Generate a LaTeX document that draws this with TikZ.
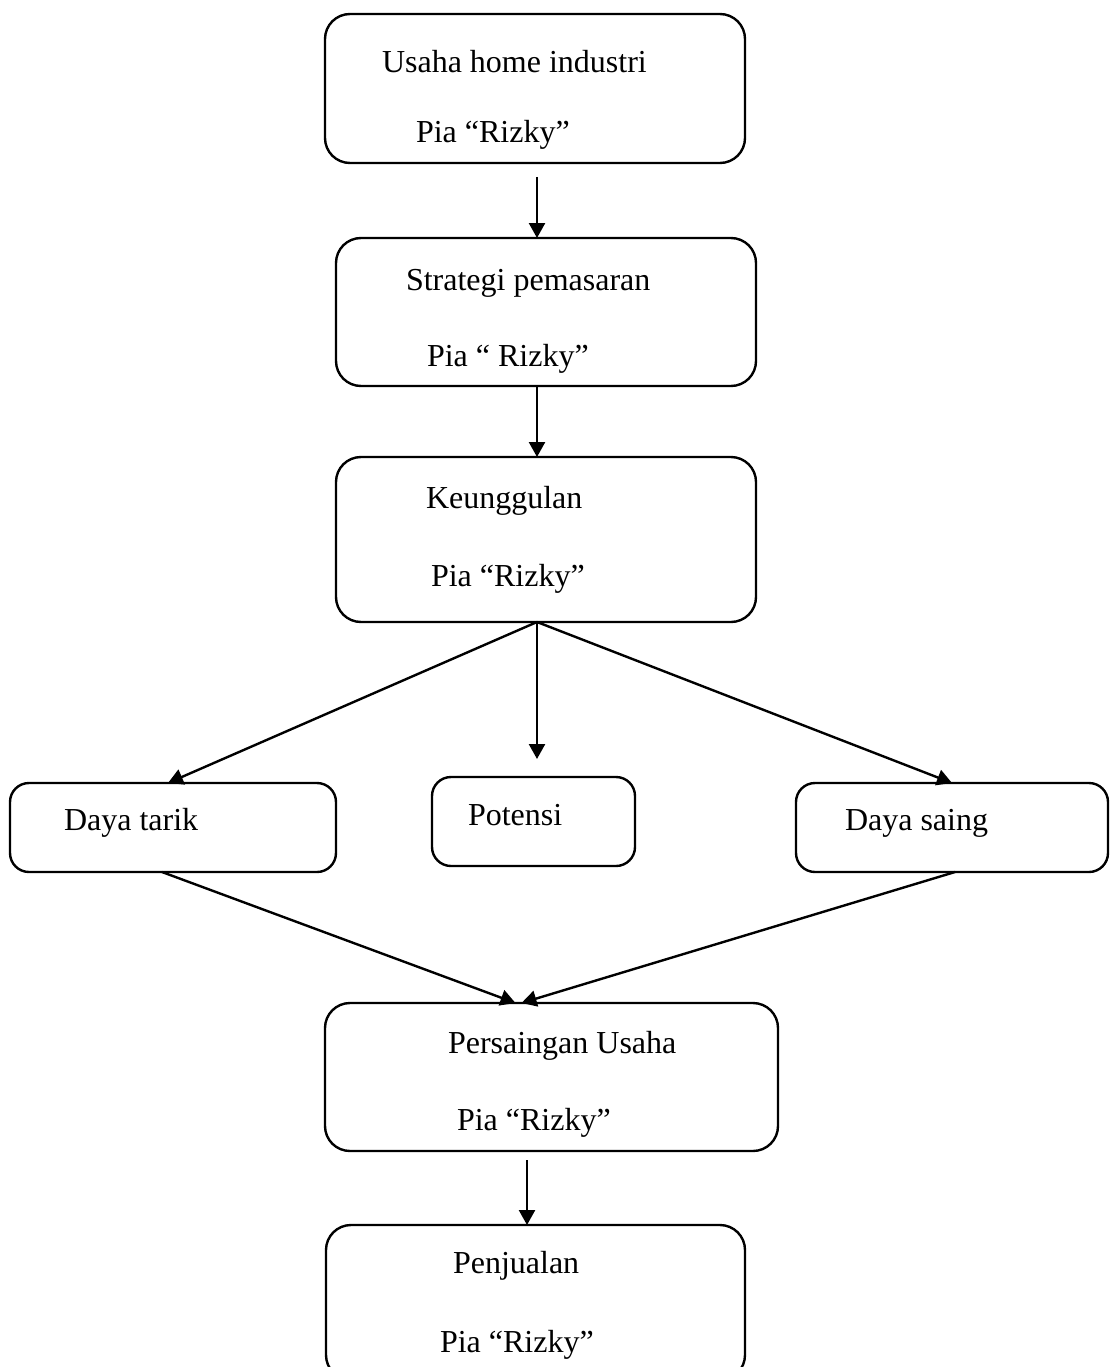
\documentclass[tikz,border=0pt]{standalone}
\usepackage{fontspec}
\setmainfont{Liberation Serif}
\usetikzlibrary{arrows.meta,calc}
\begin{document}
\begin{tikzpicture}[x=1pt,y=-1pt,
  bigbox/.style={draw=black, line width=2.4, rounded corners=25, inner sep=0, outer sep=0},
  smallbox/.style={draw=black, line width=2.4, rounded corners=19, inner sep=0, outer sep=0},
  lbl/.style={anchor=base west, inner sep=0, outer sep=0, font=\fontsize{32}{38}\selectfont},
  conn/.style={line width=2.4, -{Triangle[length=15,width=16]}}]
\useasboundingbox (0,0) rectangle (1110,1367);
\clip (0,0) rectangle (1110,1367);
\fill[white] (0,0) rectangle (1110,1367);
% boxes
\node[bigbox, minimum width=420, minimum height=149] (b1) at (535,88.5) {};
\node[bigbox, minimum width=420, minimum height=148] (b2) at (546,312) {};
\node[bigbox, minimum width=420, minimum height=165] (b3) at (546,539.5) {};
\node[smallbox, minimum width=326, minimum height=89] (dt) at (173,827.5) {};
\node[smallbox, minimum width=203, minimum height=89] (po) at (533.5,821.5) {};
\node[smallbox, minimum width=312, minimum height=89] (ds) at (952,827.5) {};
\node[bigbox, minimum width=453, minimum height=148] (b4) at (551.5,1077) {};
\node[bigbox, minimum width=419, minimum height=155] (b5) at (535.5,1302.5) {};
% texts
\node[lbl] (t1a) at (382,73) {Usaha home industri};
\node[lbl] (t1b) at (416,143) {Pia “Rizky”};
\node[lbl] (t2a) at (406,290) {Strategi pemasaran};
\node[lbl] (t2b) at (427,366) {Pia “ Rizky”};
\node[lbl] (t3a) at (426,508) {Keunggulan};
\node[lbl] (t3b) at (431,586) {Pia “Rizky”};
\node[lbl] (tdt) at (64,830) {Daya tarik};
\node[lbl] (tpo) at (468,825) {Potensi};
\node[lbl] (tds) at (845,830) {Daya saing};
\node[lbl] (t4a) at (448,1053) {Persaingan Usaha};
\node[lbl] (t4b) at (457,1130) {Pia “Rizky”};
\node[lbl] (t5a) at (453,1273) {Penjualan};
\node[lbl] (t5b) at (440,1352) {Pia “Rizky”};
% connectors
\coordinate (a1s) at (537,177);
\coordinate (pin) at (537,759);
\coordinate (a8s) at (527,1160);
\coordinate (fork) at (b3.south -| a1s);
\draw[conn] (a1s) -- (a1s |- b2.north);
\draw[conn] (b2.south -| a1s) -- (b3.north -| a1s);
\draw[conn] (fork) -- (pin);
\draw[conn] (fork) -- ($(dt.north)+(-5,0)$);
\draw[conn] (fork) -- (ds.north);
\draw[conn] ($(dt.south)+(-11,0)$) -- ($(b4.north)+(-36,0)$);
\draw[conn] ($(ds.south)+(3,0)$) -- ($(b4.north)+(-30,0)$);
\draw[conn] (a8s) -- (a8s |- b5.north);
\end{tikzpicture}
\end{document}
